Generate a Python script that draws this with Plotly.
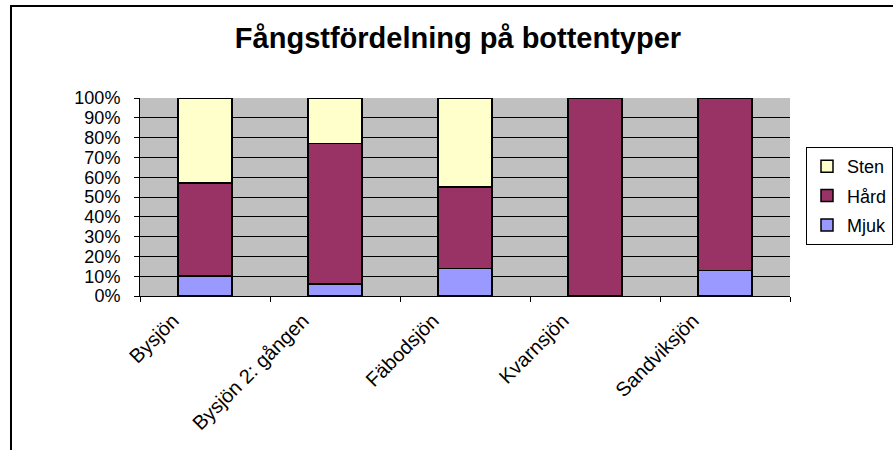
import plotly.graph_objects as go

categories = ["Bysjön", "Bysjön 2: gången", "Fäbodsjön", "Kvarnsjön", "Sandviksjön"]
mjuk = [10, 6, 14, 0, 13]
hard = [47, 71, 41, 100, 87]
sten = [43, 23, 45, 0, 0]
y_ticks = list(range(0, 101, 10))
y_labels = [f"{v}%" for v in y_ticks]

FONT = "Liberation Sans, Arial, sans-serif"

fig = go.Figure()
series = [("Mjuk", mjuk, "#9999FF", 3), ("Hård", hard, "#993366", 2), ("Sten", sten, "#FFFFCC", 1)]
for name, vals, col, rank in series:
    fig.add_trace(go.Bar(
        x=categories, y=vals, name=name, legendgroup=name, legendrank=rank,
        marker=dict(color=col, line=dict(color="black", width=1.5)),
    ))

L, R, T, B = 140, 790, 98, 296
W, H = 893, 450
fig.update_layout(
    width=W, height=H,
    margin=dict(l=L, r=W - R, t=T, b=H - B, autoexpand=False),
    barmode="stack", bargap=0.585,
    plot_bgcolor="#C0C0C0", paper_bgcolor="white",
    font=dict(family=FONT, size=16, color="black"),
    title=dict(text="<b>Fångstfördelning på bottentyper</b>", x=(458 - L) / (R - L), xref="paper",
               xanchor="center", y=1 - 38 / H, yanchor="middle",
               font=dict(family=FONT, size=29, color="black")),
    legend=dict(x=(806 - L) / (R - L), xanchor="left", y=0.505, yanchor="middle",
                traceorder="grouped", tracegroupgap=3,
                bordercolor="black", borderwidth=1, bgcolor="white",
                font=dict(family=FONT, size=18)),
    showlegend=True,
)
fig.update_yaxes(range=[0, 100], tickvals=y_ticks, ticktext=y_labels,
                 showgrid=True, gridcolor="black", gridwidth=1,
                 showline=True, linecolor="black", linewidth=1,
                 ticks="outside", ticklen=5, tickcolor="black",
                 ticklabelstandoff=10, tickfont=dict(size=18), zeroline=False)
fig.update_xaxes(tickangle=-45, tickson="boundaries", ticks="outside", ticklen=5,
                 tickcolor="black", showline=True, linecolor="black", linewidth=1,
                 ticklabelshift=-32, ticklabelstandoff=4,
                 tickfont=dict(size=20), showgrid=False)

# outer chart border
fig.add_shape(type="rect", xref="paper", yref="paper",
              x0=(11 - L) / (R - L), x1=2.0, y0=-2.0, y1=(B - 6) / (B - T),
              line=dict(color="black", width=2), fillcolor="rgba(0,0,0,0)", layer="above")

fig.write_html("out.html", config={"displayModeBar": False},
               post_script="document.body.style.margin='0';document.body.style.padding='0';")
